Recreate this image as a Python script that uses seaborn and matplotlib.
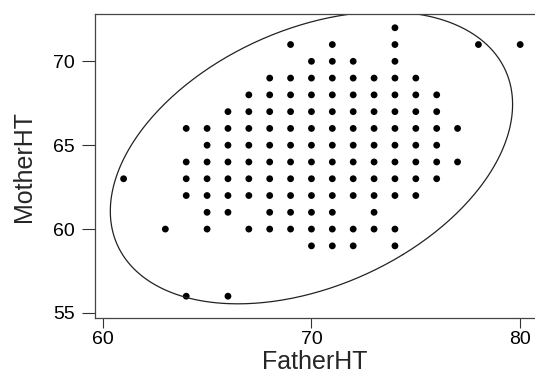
import numpy as np
import pandas as pd
import matplotlib
matplotlib.use("Agg")
import matplotlib.pyplot as plt
import seaborn as sns

# Unique (FatherHT, MotherHT) grid points, row by row
rows_mother = [72, 71, 70, 69, 68, 67, 66, 65, 64, 63, 62, 61, 60, 59, 56]
rows_fathers = [
    [74],
    [69, 71, 74, 78, 80],
    [70, 71, 72, 74],
    [68, 69, 70, 71, 72, 73, 74, 75],
    [67, 68, 69, 70, 71, 72, 73, 74, 75, 76],
    [66, 67, 68, 69, 70, 71, 72, 73, 74, 75, 76],
    [64, 65, 66, 67, 68, 69, 70, 71, 72, 73, 74, 75, 76, 77],
    [65, 66, 67, 68, 69, 70, 71, 72, 73, 74, 75, 76],
    [64, 65, 66, 67, 68, 69, 70, 71, 72, 73, 74, 75, 76, 77],
    [61, 64, 65, 66, 67, 68, 69, 70, 71, 72, 73, 74, 75, 76],
    [64, 65, 66, 67, 68, 69, 70, 71, 72, 73, 74, 75],
    [65, 66, 68, 69, 70, 71, 73],
    [63, 65, 67, 68, 69, 70, 71, 72, 73, 74],
    [70, 71, 72, 74],
    [64, 66],
]

# Data ellipse (95% level) parameters
ellipse_center = [70.0, 64.25]
ellipse_cov = [[15.5, 5.12], [5.12, 12.65]]
ellipse_chi2 = 5.991

x_ticks = [60, 70, 80]
y_ticks = [55, 60, 65, 70]

father = []
mother = []
for m, fs in zip(rows_mother, rows_fathers):
    for f in fs:
        father.append(f)
        mother.append(m)
df = pd.DataFrame({"FatherHT": father, "MotherHT": mother})

sns.set_style("ticks")
plt.rcParams["font.family"] = ["Liberation Sans", "DejaVu Sans"]

fig = plt.figure(figsize=(5.35, 3.73), dpi=100)
ax = fig.add_axes([95 / 535, 55 / 373, 440 / 535, 304 / 373])

sns.scatterplot(data=df, x="FatherHT", y="MotherHT", ax=ax, color="black",
                s=24, edgecolor="none", linewidth=0)

# ellipse from center + covariance
cov = np.array(ellipse_cov) * ellipse_chi2
vals, vecs = np.linalg.eigh(cov)
t = np.linspace(0, 2 * np.pi, 400)
circ = np.vstack([np.cos(t), np.sin(t)])
pts = vecs @ (np.sqrt(vals)[:, None] * circ)
ax.plot(pts[0] + ellipse_center[0], pts[1] + ellipse_center[1],
        color="#222222", lw=0.9)

ax.set_xlim(59.63, 80.71)
ax.set_ylim(54.70, 72.82)
ax.set_xticks(x_ticks)
ax.set_yticks(y_ticks)
ax.tick_params(axis="both", labelsize=14, width=0.8,
               color="#333333", labelcolor="black")
ax.tick_params(axis="y", length=9.5, pad=5)
ax.tick_params(axis="x", length=7, pad=2.5)
for side in ["left", "bottom", "top"]:
    ax.spines[side].set_visible(True)
    ax.spines[side].set_color("#444444")
    ax.spines[side].set_linewidth(0.9)
ax.spines["right"].set_visible(False)
ax.set_xlabel("FatherHT", fontsize=18, labelpad=1)
ax.set_ylabel("MotherHT", fontsize=18, labelpad=12)

fig.savefig("out.png", dpi=100)
